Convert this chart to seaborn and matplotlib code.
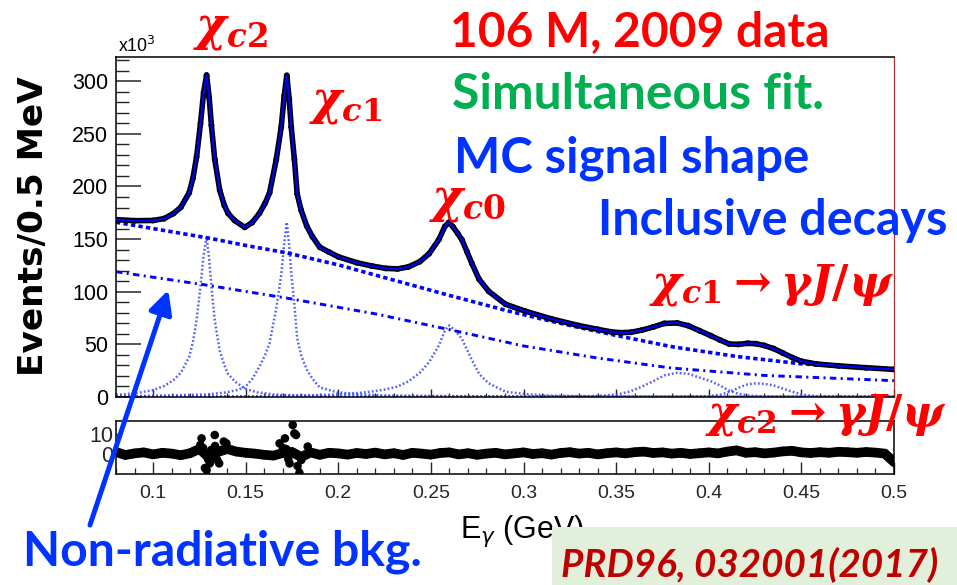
import numpy as np
import matplotlib
matplotlib.use("Agg")
import matplotlib.pyplot as plt
import seaborn as sns
from matplotlib import font_manager
from matplotlib.ticker import FixedLocator, FixedFormatter, MultipleLocator
from matplotlib.patches import Rectangle, FancyArrowPatch, ArrowStyle

# ---------------- data ----------------
# total fit (and data) : E_gamma (GeV) vs events (x10^3 / 0.5 MeV)
FIT_E = [0.080, 0.090, 0.100, 0.106, 0.111, 0.115, 0.1195, 0.1215, 0.1235, 0.1256,
         0.1273, 0.1289, 0.1303, 0.1315, 0.1333, 0.136, 0.1385, 0.1405, 0.144, 0.1495,
         0.1535, 0.1575, 0.1605, 0.1629, 0.1665, 0.1692, 0.1708, 0.1722, 0.1735, 0.1746,
         0.1763, 0.1778, 0.1799, 0.183, 0.186, 0.190, 0.195, 0.200, 0.210, 0.218,
         0.2256, 0.232, 0.238, 0.244, 0.249, 0.2543, 0.2575, 0.2597, 0.262, 0.2645,
         0.2668, 0.2695, 0.2722, 0.276, 0.2812, 0.2902, 0.301, 0.315, 0.330, 0.340,
         0.347, 0.352, 0.358, 0.364, 0.370, 0.376, 0.383, 0.389, 0.395, 0.401,
         0.406, 0.411, 0.416, 0.421, 0.4255, 0.430, 0.435, 0.440, 0.445, 0.450,
         0.458, 0.470, 0.485, 0.500]
FIT_V = [168.5, 167.5, 167.7, 169.5, 174.3, 180.3, 194.1, 207.6, 228.1, 259.6,
         289.3, 305.8, 284.5, 258.2, 225.8, 196.4, 182.0, 174.5, 167.7, 161.2,
         165.7, 174.7, 184.1, 194.0, 225.5, 256.5, 286.0, 305.5, 283.0, 256.5,
         225.7, 193.0, 177.7, 162.3, 152.4, 142.3, 137.7, 133.2, 127.6, 124.5,
         122.2, 121.7, 123.7, 128.6, 136.1, 149.6, 161.9, 165.9, 161.5, 155.3,
         149.2, 137.9, 126.6, 111.9, 100.4, 88.2, 81.5, 74.2, 67.8, 64.3,
         62.0, 61.1, 61.5, 63.6, 66.5, 69.9, 70.3, 67.7, 63.0, 58.3,
         54.2, 50.4, 50.0, 51.0, 50.6, 48.9, 46.0, 41.8, 37.5, 34.0,
         31.4, 29.6, 27.8, 26.2]

# total background (dashed)
BKG_E = [0.08, 0.10, 0.13, 0.15, 0.172, 0.20, 0.23, 0.26, 0.29, 0.31, 0.33, 0.35, 0.38, 0.415, 0.45, 0.50]
BKG_V = [166, 160, 151, 144, 137, 125.5, 111, 96.5, 82.5, 74, 66, 58.5, 47.8, 38.5, 31.5, 26]

# non-radiative background (dash-dot)
NR_E = [0.08, 0.13, 0.172, 0.22, 0.26, 0.30, 0.34, 0.38, 0.43, 0.50]
NR_V = [119, 106, 94, 79, 64, 48.5, 37, 27.5, 20.5, 15.5]

# signal shapes (dotted)
C2_E = [0.080, 0.090, 0.100, 0.106, 0.111, 0.115, 0.1195, 0.1215, 0.1235, 0.1256, 0.1273, 0.1289,
        0.1303, 0.1315, 0.1333, 0.136, 0.1385, 0.1405, 0.144, 0.1495, 0.156, 0.165, 0.18, 0.21, 0.30, 0.50]
C2_V = [2.0, 3.5, 6.5, 10.5, 16, 23, 38, 52, 73, 105, 135, 152,
        131, 105, 73, 44, 30, 22, 15, 8, 4.5, 2.5, 1.2, 0.5, 0.2, 0.1]

C1_E = [0.080, 0.100, 0.120, 0.130, 0.140, 0.145, 0.1495, 0.1535, 0.1575, 0.1605, 0.1629, 0.1665,
        0.1692, 0.1708, 0.1722, 0.1735, 0.1746, 0.1763, 0.1778, 0.1799, 0.183, 0.186, 0.190,
        0.1995, 0.210, 0.225, 0.25, 0.30, 0.50]
C1_V = [0.8, 1.2, 2.0, 2.6, 4.5, 6.5, 9, 17, 29, 40, 51, 84,
        116, 146, 166, 144, 118, 88, 56, 40, 26, 17.5, 9,
        4.5, 2.6, 1.5, 1.0, 0.4, 0.1]

C0_E = [0.08, 0.15, 0.19, 0.205, 0.215, 0.225, 0.232, 0.238, 0.244, 0.249, 0.2543, 0.2575, 0.2597,
        0.262, 0.2645, 0.2668, 0.2695, 0.2722, 0.276, 0.2812, 0.2902, 0.301, 0.315, 0.34, 0.50]
C0_V = [0.2, 0.6, 1.8, 3.0, 4.5, 7, 10, 15, 23, 33, 49, 63, 68,
        65, 60, 55, 45, 35, 22, 13, 5, 2.8, 1.3, 0.5, 0.1]

G1_E = [0.08, 0.30, 0.335, 0.345, 0.352, 0.358, 0.364, 0.370, 0.376, 0.383, 0.389, 0.395,
        0.401, 0.406, 0.411, 0.416, 0.422, 0.435, 0.50]
G1_V = [0.1, 0.3, 0.8, 1.5, 3, 5.5, 10, 15, 20.5, 23, 22, 18.5,
        15, 11, 6, 3, 1.2, 0.4, 0.1]

G2_E = [0.08, 0.38, 0.400, 0.407, 0.412, 0.417, 0.421, 0.4255, 0.430, 0.435, 0.440, 0.445, 0.450, 0.458, 0.50]
G2_V = [0.1, 0.2, 0.8, 2.5, 5.5, 9.5, 12, 13, 12.5, 11, 8, 5, 2.5, 0.8, 0.2]

# residuals (pull) panel
RES_E = [0.080, 0.085, 0.090, 0.095, 0.100, 0.105, 0.110, 0.115, 0.120, 0.125,
         0.130, 0.135, 0.140, 0.145, 0.150, 0.155, 0.160, 0.165, 0.170, 0.175,
         0.180, 0.185, 0.190, 0.195, 0.200, 0.205, 0.210, 0.215, 0.220, 0.225,
         0.230, 0.235, 0.240, 0.245, 0.250, 0.255, 0.260, 0.265, 0.270, 0.275,
         0.280, 0.285, 0.290, 0.295, 0.300, 0.305, 0.310, 0.315, 0.320, 0.325,
         0.330, 0.335, 0.340, 0.345, 0.350, 0.355, 0.360, 0.365, 0.370, 0.375,
         0.380, 0.385, 0.390, 0.395, 0.400, 0.405, 0.410, 0.415, 0.420, 0.425,
         0.430, 0.435, 0.440, 0.445, 0.450, 0.455, 0.460, 0.465, 0.470, 0.475,
         0.480, 0.485, 0.490, 0.495, 0.500]
RES_V = [1.0, -0.5, 0.3, 0.8, -0.2, 0.6, 0.2, -0.6, 0.4, 2.5,
         -1.5, 1.0, 2.5, 1.2, 0.6, 0.2, -0.4, -0.8, 0.5, 1.0,
         -1.5, 0.8, -0.4, 0.6, 0.3, -0.3, 0.5, 0.0, 0.7, -0.2,
         0.4, -0.5, 0.6, 0.2, -0.3, 0.5, 0.8, -0.2, 0.4, -0.4,
         0.2, 0.6, -0.2, 0.3, 0.8, 0.0, 0.4, -0.3, 0.5, 0.9,
         0.2, 0.6, -0.2, 0.4, 0.8, 0.3, 0.9, 1.2, 0.5, 0.8,
         0.2, 0.6, 0.0, 0.4, 0.8, 0.3, 1.2, 1.8, 0.6, 0.9,
         0.3, 0.7, 1.3, 1.6, 0.8, 0.5, 0.9, 0.6, 1.1, 0.9,
         0.6, 1.0, 0.7, 0.2, -4.0]
SPK_E = [0.1255, 0.1262, 0.1270, 0.1280, 0.1289, 0.1296, 0.1306, 0.1314, 0.1321, 0.1333,
         0.1335, 0.1346, 0.1357, 0.1370, 0.1382, 0.1396, 0.1683, 0.1701, 0.1712, 0.1719,
         0.1730, 0.1737, 0.1754, 0.1763, 0.1772, 0.1780, 0.1790, 0.1800, 0.1835]
SPK_V = [4.5, 7.8, 3.0, -7.0, -8.0, -2.5, -4.7, 2.0, -0.5, 9.5,
         4.0, -3.0, -4.7, 2.0, 6.2, 5.3, 5.3, 3.0, 7.8, 2.5,
         -2.5, -4.7, 14.5, 10.3, 9.5, -6.0, -9.5, -3.0, 3.7]

# ticks
XT = [0.1, 0.15, 0.2, 0.25, 0.3, 0.35, 0.4, 0.45, 0.5]
XTL = ["0.1", "0.15", "0.2", "0.25", "0.3", "0.35", "0.4", "0.45", "0.5"]
YT = [0, 50, 100, 150, 200, 250, 300]
YTL = ["0", "50", "100", "150", "200", "250", "300"]
RYT = [0, 10]
RYTL = ["0", "10"]

# ---------------- style ----------------
names = {f.name for f in font_manager.fontManager.ttflist}
NARROW_OK = 'Liberation Sans Narrow' in names
NARROW = 'Liberation Sans Narrow' if NARROW_OK else 'Liberation Sans'
YLAB_SIZE = 18 if NARROW_OK else 15.5
XLAB_SIZE = 14
CAL = 'Lato' if 'Lato' in names else 'DejaVu Sans'

sns.set_theme(style="white")
plt.rcParams['font.family'] = [NARROW, 'DejaVu Sans']
plt.rcParams.update({
    'mathtext.fontset': 'custom',
    'mathtext.it': 'DejaVu Serif:italic:bold',
    'mathtext.rm': 'DejaVu Serif:bold',
    'mathtext.bf': 'DejaVu Serif:bold',
})

W, H = 957, 585
fig = plt.figure(figsize=(W / 100, H / 100), dpi=100)
fig.patch.set_facecolor('white')

ax = fig.add_axes([116 / W, 1 - 397 / H, 778 / W, 340 / H])
axr = fig.add_axes([116 / W, 1 - 474 / H, 778 / W, 53 / H])

BLUE = '#0000ff'
SIGB = '#3344ff'


def line(axis, x, y, color, lw, dashes=None, zorder=2, alpha=1.0, **kw):
    sns.lineplot(x=np.asarray(x, float), y=np.asarray(y, float), ax=axis, color=color,
                 linewidth=lw, estimator=None, sort=False, legend=False,
                 zorder=zorder, alpha=alpha, **kw)
    ln = axis.lines[-1]
    if dashes is not None:
        ln.set_dashes(dashes)
    return ln


# signals (dotted)
for se, sv in [(C2_E, C2_V), (C1_E, C1_V), (C0_E, C0_V), (G1_E, G1_V), (G2_E, G2_V)]:
    line(ax, se, sv, SIGB, 1.8, dashes=[0.7, 0.9], zorder=2, alpha=0.85)
# non-radiative (dash-dot)
line(ax, NR_E, NR_V, BLUE, 2.1, dashes=[2.2, 1.5, 0.7, 1.5], zorder=2)
# total background (dashed)
line(ax, BKG_E, BKG_V, BLUE, 2.6, dashes=[1.2, 0.9], zorder=2)
# data band + points
line(ax, FIT_E, FIT_V, 'black', 4.0, zorder=3)
sns.scatterplot(x=FIT_E, y=FIT_V, ax=ax, color='black', s=18, edgecolor='none', zorder=3, legend=False)
# fit
line(ax, FIT_E, FIT_V, BLUE, 1.5, zorder=4)

ax.set_xlim(0.08, 0.5)
ax.set_ylim(0, 323)
ax.set_xlabel('')
ax.set_ylabel('')
ax.yaxis.set_major_locator(FixedLocator(YT))
ax.yaxis.set_major_formatter(FixedFormatter(YTL))
ax.yaxis.set_minor_locator(MultipleLocator(10))
ax.xaxis.set_major_locator(FixedLocator(XT))
ax.xaxis.set_minor_locator(MultipleLocator(0.01))
ax.tick_params(axis='y', which='major', direction='in', length=18, width=1.1, pad=5.5,
               left=True, right=False, labelsize=YLAB_SIZE, labelcolor='black')
ax.tick_params(axis='y', which='minor', direction='in', length=9.5, width=1.0, left=True, right=False)
ax.tick_params(axis='x', which='major', direction='in', length=6, width=1.0, bottom=True, top=False,
               labelbottom=False)
ax.tick_params(axis='x', which='minor', direction='in', length=3, width=0.9, bottom=True, top=False)
for s in ax.spines.values():
    s.set_color('black')
    s.set_linewidth(1.1)
ax.spines['right'].set_color('#b03030')
ax.spines['right'].set_linewidth(0.9)
ax.set_facecolor('white')

# residual panel
line(axr, RES_E, RES_V, 'black', 7.0, zorder=3)
sns.scatterplot(x=RES_E, y=RES_V, ax=axr, color='black', s=44, edgecolor='none', zorder=3, legend=False)
sns.scatterplot(x=SPK_E, y=SPK_V, ax=axr, color='black', s=38, edgecolor='none', zorder=3, legend=False)
axr.set_xlim(0.08, 0.5)
axr.set_ylim(-10, 16.5)
axr.set_xlabel('')
axr.set_ylabel('')
axr.xaxis.set_major_locator(FixedLocator(XT))
axr.xaxis.set_major_formatter(FixedFormatter(XTL))
axr.xaxis.set_minor_locator(MultipleLocator(0.01))
axr.yaxis.set_major_locator(FixedLocator(RYT))
axr.yaxis.set_major_formatter(FixedFormatter(RYTL))
axr.tick_params(axis='x', which='major', direction='in', length=8.6, width=1.0, pad=8,
                bottom=True, top=False, labelsize=XLAB_SIZE)
axr.tick_params(axis='x', which='minor', direction='in', length=4.3, width=0.9, bottom=True, top=False)
axr.tick_params(axis='y', which='major', direction='in', length=4, width=1.0, pad=2,
                left=True, right=False, labelsize=YLAB_SIZE)
for s in axr.spines.values():
    s.set_color('black')
    s.set_linewidth(1.1)
axr.set_facecolor('white')

# make sure tick labels carry the intended font
fig.canvas.draw()
renderer = fig.canvas.get_renderer()
for lab in ax.get_yticklabels() + axr.get_yticklabels():
    lab.set_fontsize(YLAB_SIZE)
    lab.set_fontfamily(NARROW)
for lab in axr.get_xticklabels():
    lab.set_fontsize(XLAB_SIZE)
    lab.set_fontfamily('Liberation Sans')


# ---------------- texts ----------------
def put(s, x, y, wpx, color, ha='center', va='baseline', zorder=6, **kw):
    t = fig.text(x / W, 1 - y / H, s, color=color, ha=ha, va=va, fontsize=20, zorder=zorder, **kw)
    w = t.get_window_extent(renderer).width
    t.set_fontsize(20 * wpx / w)
    return t


# y label
yl = fig.text(33.5 / W, 1 - 226 / H, 'Events/0.5 MeV', rotation=90, ha='center', va='center',
              fontsize=22, family='DejaVu Sans', weight='bold', color='black')
hh = yl.get_window_extent(renderer).height
yl.set_fontsize(22 * 300 / hh)

put(r'x10$^{3}$', 118, 52.5, 37, 'black', ha='left', family=NARROW, math_fontfamily='dejavusans')
fig.text(460 / W, 1 - 538 / H, r'E$_{\gamma}$ (GeV)', ha='left', va='baseline', color='black',
         fontsize=22, family=NARROW, math_fontfamily='dejavusans', zorder=4)

put('106 M, 2009 data', 640, 46, 380, '#ff0000', family=CAL, weight='bold')
put('Simultaneous fit.', 638.5, 109, 373, '#00b050', family=CAL, weight='bold')
put('MC signal shape', 631.5, 172.5, 355, '#0033ff', family=CAL, weight='bold')
put('Inclusive decays', 772.6, 235, 350, '#0033ff', family=CAL, weight='bold')
put('Non-radiative bkg.', 222, 566, 400, '#0033ff', family=CAL, weight='bold')

put(r'$\chi_{c2}$', 230, 53, 76, '#ff0000', va='bottom')
put(r'$\chi_{c1}$', 345.5, 127, 75, '#ff0000', va='bottom')
put(r'$\chi_{c0}$', 467.8, 225, 78.5, '#ff0000', va='bottom')
put(r'$\chi_{c1}\rightarrow\gamma J/\psi$', 771, 308, 246, '#ff0000', va='bottom')
put(r'$\chi_{c2}\rightarrow\gamma J/\psi$', 826.5, 438, 243, '#ff0000', va='bottom')

# reference box
fig.add_artist(Rectangle((551.7 / W, 0), 1 - 551.7 / W, (585 - 526.7) / H, transform=fig.transFigure,
                         facecolor='#e2efda', edgecolor='none', zorder=5))
put('PRD96, 032001(2017)', 750, 576.7, 376.6, '#c00000', family=CAL, weight='bold', style='italic',
    zorder=6)

# arrow
arr = FancyArrowPatch((90 / W, 1 - 525 / H), (168.3 / W, 1 - 290 / H), transform=fig.transFigure,
                      arrowstyle=ArrowStyle('-|>', head_length=0.7, head_width=0.35),
                      mutation_scale=20, color='#0033ff', lw=3.6, zorder=6, shrinkA=0, shrinkB=0)
fig.add_artist(arr)

fig.savefig('out.png', dpi=100, facecolor='white')
